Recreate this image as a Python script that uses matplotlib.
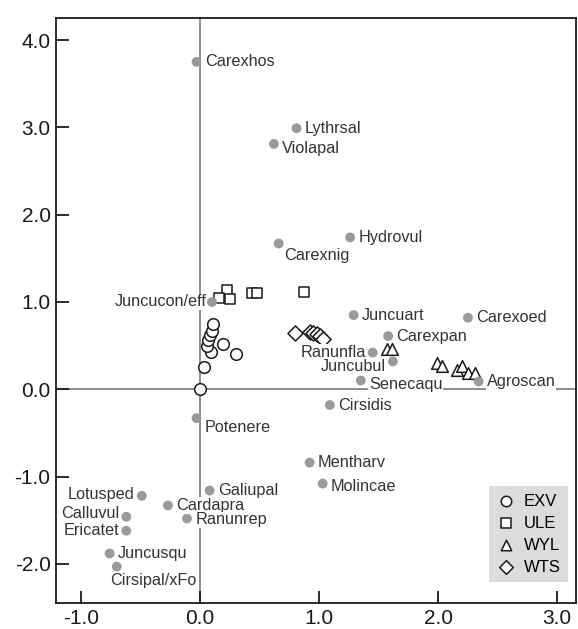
import numpy as np
import matplotlib.pyplot as plt

plt.rcParams["font.family"] = ["Liberation Sans", "DejaVu Sans"]

# Species scores (filled grey points)
species = [
    "Carexhos", "Lythrsal", "Violapal", "Hydrovul", "Carexnig",
    "Juncucon/eff", "Juncuart", "Carexoed", "Carexpan", "Ranunfla",
    "Juncubul", "Senecaqu", "Agroscan", "Cirsidis", "Potenere",
    "Mentharv", "Molincae", "Galiupal", "Lotusped", "Cardapra",
    "Ranunrep", "Calluvul", "Ericatet", "Juncusqu", "Cirsipal/xFo",
]
species_x = [
    -0.03, 0.81, 0.62, 1.26, 0.66,
    0.10, 1.29, 2.25, 1.58, 1.45,
    1.62, 1.35, 2.34, 1.09, -0.03,
    0.92, 1.03, 0.08, -0.49, -0.27,
    -0.11, -0.62, -0.62, -0.76, -0.70,
]
species_y = [
    3.75, 2.99, 2.81, 1.74, 1.67,
    1.00, 0.85, 0.82, 0.61, 0.42,
    0.32, 0.10, 0.09, -0.18, -0.33,
    -0.84, -1.08, -1.16, -1.22, -1.33,
    -1.48, -1.46, -1.62, -1.88, -2.03,
]

# Site scores per group (open symbols)
exv_x = [0.00, 0.03, 0.09, 0.06, 0.07, 0.08, 0.10, 0.11, 0.19, 0.30]
exv_y = [0.00, 0.25, 0.43, 0.50, 0.56, 0.62, 0.67, 0.75, 0.52, 0.41]
ule_x = [0.23, 0.16, 0.25, 0.44, 0.48, 0.87]
ule_y = [1.14, 1.05, 1.04, 1.10, 1.10, 1.11]
wyl_x = [1.57, 1.61, 1.99, 2.03, 2.16, 2.20, 2.25, 2.31]
wyl_y = [0.46, 0.46, 0.30, 0.27, 0.22, 0.27, 0.19, 0.19]
wts_x = [0.80, 0.92, 0.95, 0.98, 1.01, 1.03]
wts_y = [0.65, 0.66, 0.64, 0.63, 0.61, 0.58]

groups = ["EXV", "ULE", "WYL", "WTS"]
group_markers = ["o", "s", "^", "D"]

x_ticks = [-1.0, 0.0, 1.0, 2.0, 3.0]
y_ticks = [-2.0, -1.0, 0.0, 1.0, 2.0, 3.0, 4.0]

# Label placement: offset in points from the point, horizontal alignment
label_place = {
    "Carexnig": (4, -9, "left"),
    "Violapal": (6, -3, "left"),
    "Juncucon/eff": (-4, 0, "right"),
    "Ranunfla": (-5, 0, "right"),
    "Juncubul": (-5, -4, "right"),
    "Senecaqu": (6, -3, "left"),
    "Potenere": (6, -7, "left"),
    "Molincae": (6, -2, "left"),
    "Lotusped": (-5, 1, "right"),
    "Ranunrep": (6, -1, "left"),
    "Calluvul": (-5, 2, "right"),
    "Ericatet": (-5, 0, "right"),
    "Cirsipal/xFo": (-5, -10, "left"),
}
default_place = (6, 0, "left")

dot_style = {"s": 50, "color": "#9a9a9a", "edgecolors": "none", "zorder": 4}
site_style = {"s": 70, "facecolors": "white", "edgecolors": "#1a1a1a",
              "linewidths": 1.1, "zorder": 3}
ref_line_style = {"color": "#8c8c8c", "linewidth": 1.4, "zorder": 1}
label_style = {"fontsize": 11.7, "color": "#333333", "va": "center",
               "zorder": 5,
               "bbox": {"facecolor": "white", "edgecolor": "none", "pad": 0.5}}


def draw_sites(ax):
    series = [(exv_x, exv_y), (ule_x, ule_y), (wyl_x, wyl_y), (wts_x, wts_y)]
    for name, marker, (xs, ys) in zip(groups, group_markers, series):
        size = site_style["s"] * (0.85 if marker in ("s", "D") else 1.0)
        ax.scatter(xs, ys, marker=marker, label=name,
                   **{**site_style, "s": size})


def draw_species(ax):
    ax.scatter(species_x, species_y, **dot_style)
    for name, x, y in zip(species, species_x, species_y):
        dx, dy, ha = label_place.get(name, default_place)
        ax.annotate(name, (x, y), xytext=(dx, dy), textcoords="offset points",
                    ha=ha, **label_style)


fig = plt.figure(figsize=(5.78, 6.29), dpi=100)
ax = fig.add_axes([0.097, 0.041, 0.900, 0.930])

ax.axvline(0, **ref_line_style)
ax.axhline(0, **ref_line_style)

draw_sites(ax)
draw_species(ax)

ax.set_xlim(-1.21, 3.16)
ax.set_ylim(-2.45, 4.25)
ax.set_xticks(x_ticks)
ax.set_yticks(y_ticks)
ax.set_xticklabels(["{:.1f}".format(v) for v in x_ticks])
ax.set_yticklabels(["{:.1f}".format(v) for v in y_ticks])
ax.tick_params(direction="in", length=9, width=1.3, labelsize=15,
               colors="#1a1a1a", pad=4)
for spine in ax.spines.values():
    spine.set_linewidth(1.3)
    spine.set_color("#1a1a1a")

leg = ax.legend(loc="lower right", bbox_to_anchor=(0.985, 0.036),
                borderaxespad=0, frameon=True, fontsize=12,
                markerscale=0.9, handletextpad=0.55, handlelength=1.1,
                borderpad=0.45, labelspacing=0.42)
leg.get_frame().set_facecolor("#dcdcdc")
leg.get_frame().set_edgecolor("none")
leg.get_frame().set_boxstyle("square", pad=0)
leg.get_frame().set_alpha(1)

fig.savefig("out.png", dpi=100)
